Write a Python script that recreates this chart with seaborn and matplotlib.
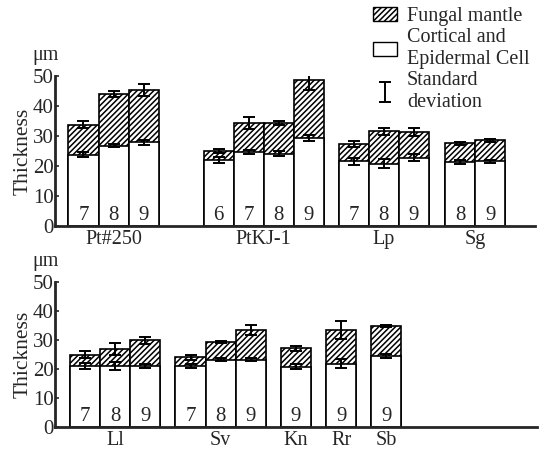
import numpy as np
import pandas as pd
import seaborn as sns
import matplotlib.pyplot as plt
from matplotlib.patches import Patch

# top panel
top_group = ["Pt#250"] * 3 + ["PtKJ-1"] * 4 + ["Lp"] * 3 + ["Sg"] * 2
top_age = [7, 8, 9, 6, 7, 8, 9, 7, 8, 9, 8, 9]
top_cortical = [23.8, 26.8, 27.9, 21.9, 24.7, 24.1, 29.3, 21.6, 20.7, 22.8, 21.4, 21.6]
top_total = [33.8, 44.0, 45.3, 25.0, 34.4, 34.3, 48.6, 27.3, 31.5, 31.3, 27.5, 28.5]
top_cortical_sd = [0.7, 0.6, 0.8, 1.0, 0.6, 0.8, 1.1, 1.2, 1.5, 1.3, 0.6, 0.5]
top_total_sd = [1.2, 1.1, 2.0, 0.6, 2.0, 0.7, 3.2, 0.9, 1.2, 1.2, 0.5, 0.6]

# bottom panel
bot_group = ["Ll"] * 3 + ["Sv"] * 3 + ["Kn", "Rr", "Sb"]
bot_age = [7, 8, 9, 7, 8, 9, 9, 9, 9]
bot_cortical = [21.0, 21.1, 21.2, 21.2, 23.3, 23.3, 20.8, 21.9, 24.5]
bot_total = [25.0, 27.0, 30.0, 24.1, 29.4, 33.4, 27.2, 33.5, 34.9]
bot_cortical_sd = [1.0, 1.5, 0.7, 0.7, 0.6, 0.5, 0.8, 1.5, 0.7]
bot_total_sd = [1.1, 2.0, 1.2, 0.9, 0.4, 1.8, 0.8, 3.0, 0.3]

sns.set_style("ticks")
plt.rcParams["font.family"] = ["Liberation Serif", "DejaVu Serif"]
plt.rcParams["hatch.linewidth"] = 1.1
HATCH = "//////"


def bar_positions(groups, start, gaps):
    # left edges of bars, each bar one unit wide, extra gap between groups
    pos, x, gi = [], start, 0
    for i, g in enumerate(groups):
        if i > 0 and g != groups[i - 1]:
            x += gaps[gi]
            gi += 1
        pos.append(x + 0.5)
        x += 1
    return pos


def panel(ax, groups, ages, cortical, total, c_sd, t_sd, start, gaps):
    df = pd.DataFrame({"group": groups, "age": ages, "cortical": cortical,
                       "total": total, "c_sd": c_sd, "t_sd": t_sd})
    df["x"] = bar_positions(groups, start, gaps)
    sns.barplot(data=df, x="x", y="total", native_scale=True, width=1,
                color="white", saturation=1, edgecolor="black", linewidth=1.2,
                hatch=HATCH, errorbar=None, ax=ax)
    sns.barplot(data=df, x="x", y="cortical", native_scale=True, width=1,
                color="white", saturation=1, edgecolor="black", linewidth=1.2,
                errorbar=None, ax=ax)
    eb = ax.errorbar(df["x"], df["total"], yerr=df["t_sd"], fmt="none",
                     ecolor="black", elinewidth=1.4, capsize=4, capthick=1.4, zorder=5)
    ax.errorbar(df["x"], df["cortical"], yerr=df["c_sd"], fmt="none",
                ecolor="black", elinewidth=1.4, capsize=4, capthick=1.4, zorder=5)
    for x, a in zip(df["x"], df["age"]):
        ax.text(x, 0.3, str(a), ha="center", va="bottom", fontsize=15)
    centers = df.groupby("group", sort=False)["x"].mean()
    ax.set_xticks(centers.values)
    ax.set_xticklabels(centers.index, fontsize=14.5)
    ax.tick_params(axis="x", length=0, pad=3)
    ax.tick_params(axis="y", direction="in", length=3, width=1.2, labelsize=15, pad=1)
    ax.set_xlim(0, 16)
    ax.set_ylim(0, 50)
    ax.set_yticks([0, 10, 20, 30, 40, 50])
    ax.set_xlabel("")
    ax.set_ylabel("Thickness", fontsize=15.5, labelpad=0)
    sns.despine(ax=ax)
    for s in ["left", "bottom"]:
        ax.spines[s].set_linewidth(2)
    ax.text(-0.02, 1.075, "μm", transform=ax.transAxes, ha="center", va="bottom",
            fontsize=14.5)
    return eb


fig = plt.figure(figsize=(5.39, 4.5), dpi=100)
ax1 = fig.add_axes([0.102, 0.498, 0.891, 0.333])
ax2 = fig.add_axes([0.102, 0.051, 0.894, 0.322])

eb = panel(ax1, top_group, top_age, top_cortical, top_total,
           top_cortical_sd, top_total_sd, 0.45, [1.5, 0.5, 0.55])
panel(ax2, bot_group, bot_age, bot_cortical, bot_total,
      bot_cortical_sd, bot_total_sd, 0.5, [0.5, 0.5, 0.5, 0.5])

handles = [Patch(facecolor="white", edgecolor="black", hatch=HATCH),
           Patch(facecolor="white", edgecolor="black"),
           eb]
labels = ["Fungal mantle", "Cortical and\nEpidermal Cell", "Standard\ndeviation"]
fig.legend(handles, labels, loc="upper left", bbox_to_anchor=(0.665, 1.015),
           frameon=False, fontsize=14.5, handlelength=1.2, handletextpad=0.5,
           labelspacing=0.1, borderpad=0.2)

fig.savefig("out.png", dpi=100)
